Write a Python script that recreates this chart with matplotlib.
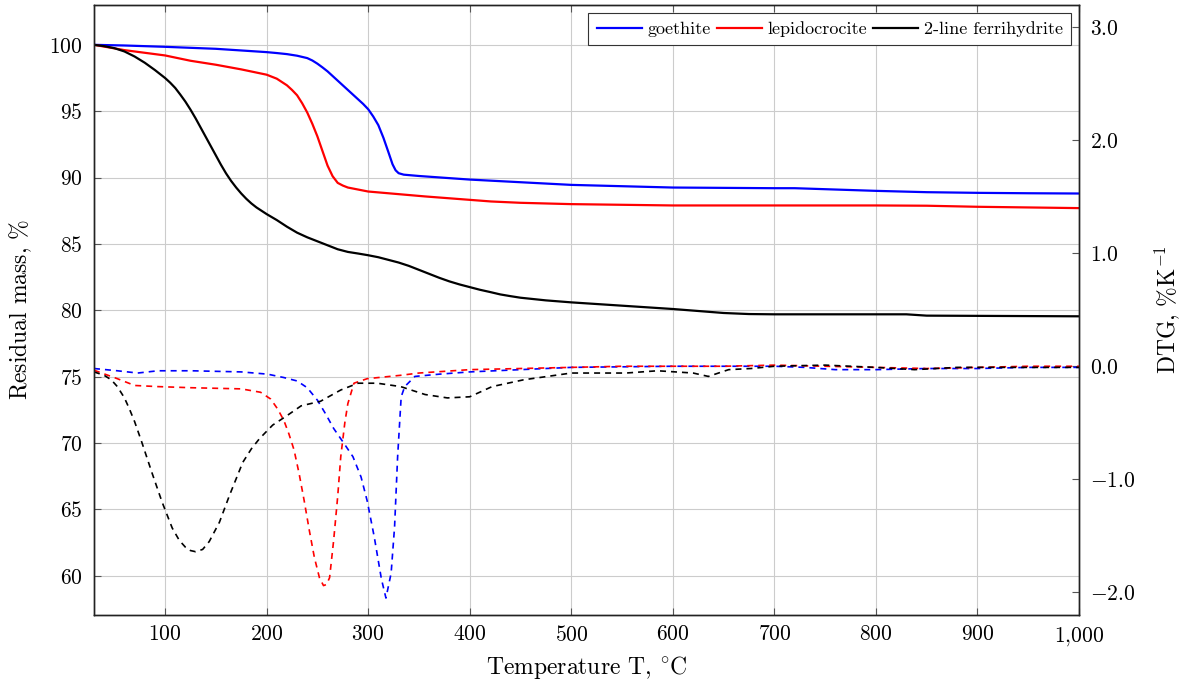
import matplotlib
matplotlib.use("Agg")
import matplotlib.pyplot as plt
from matplotlib.ticker import FixedLocator, FuncFormatter

plt.rcParams['font.family'] = 'serif'
plt.rcParams['font.serif'] = ['cmr10']
plt.rcParams['mathtext.fontset'] = 'cm'
plt.rcParams['axes.formatter.use_mathtext'] = True
plt.rcParams['axes.unicode_minus'] = True

# TG curves: temperature (°C) and residual mass (%)
goe_t = [30, 60, 100, 150, 200, 210, 220, 230, 240, 245, 250, 255, 260, 265, 270, 275, 280, 285,
         290, 295, 300, 305, 310, 315, 320, 324, 327, 330, 335, 350, 400, 450, 500, 550, 600,
         700, 720, 760, 800, 850, 900, 950, 1000]
goe_m = [100.0, 99.95, 99.85, 99.7, 99.45, 99.38, 99.3, 99.18, 99.0, 98.82, 98.58, 98.3, 98.0,
         97.65, 97.3, 96.95, 96.6, 96.25, 95.9, 95.55, 95.15, 94.6, 93.95, 93.0, 91.9, 91.0,
         90.55, 90.33, 90.22, 90.12, 89.85, 89.65, 89.45, 89.35, 89.25, 89.2, 89.2, 89.1, 89.0,
         88.9, 88.85, 88.82, 88.8]

lep_t = [30, 60, 100, 125, 150, 175, 200, 210, 215, 220, 225, 230, 235, 240, 245, 250, 255, 260,
         265, 270, 275, 280, 300, 356, 421, 450, 500, 600, 700, 800, 850, 900, 1000]
lep_m = [100.0, 99.6, 99.2, 98.8, 98.5, 98.15, 97.75, 97.45, 97.2, 96.95, 96.6, 96.2, 95.6, 94.9,
         94.05, 93.1, 92.0, 90.9, 90.1, 89.6, 89.4, 89.25, 88.95, 88.58, 88.2, 88.1, 88.0, 87.9,
         87.9, 87.9, 87.88, 87.8, 87.7]

fer_t = [30, 40, 50, 60, 70, 80, 90, 100, 105, 110, 115, 120, 125, 130, 135, 140, 145, 150, 155,
         160, 165, 170, 175, 180, 185, 190, 195, 200, 210, 220, 230, 240, 250, 260, 270, 280,
         290, 300, 310, 320, 330, 340, 350, 360, 370, 380, 390, 400, 410, 420, 430, 440, 450,
         475, 500, 550, 600, 625, 650, 675, 700, 830, 850, 1000]
fer_m = [100.0, 99.9, 99.75, 99.5, 99.12, 98.65, 98.1, 97.5, 97.15, 96.75, 96.25, 95.72, 95.12,
         94.47, 93.77, 93.07, 92.37, 91.67, 90.97, 90.32, 89.75, 89.25, 88.8, 88.4, 88.05, 87.75,
         87.5, 87.25, 86.8, 86.3, 85.85, 85.5, 85.2, 84.9, 84.6, 84.4, 84.28, 84.15, 84.0, 83.8,
         83.6, 83.35, 83.05, 82.75, 82.45, 82.18, 81.95, 81.75, 81.55, 81.38, 81.2, 81.07, 80.95,
         80.75, 80.6, 80.35, 80.1, 79.95, 79.8, 79.72, 79.7, 79.7, 79.6, 79.55]

# DTG curves: temperature (°C) and %/K
goe_dt = [30, 53, 73, 93, 126, 175, 201, 217, 230, 240, 250, 258, 266, 276, 285, 293, 299, 306,
          313, 317.5, 322.6, 326, 329, 332.5, 336, 346, 370, 400, 450, 500, 600, 700, 730, 760,
          800, 850, 900, 950, 1000]
goe_dtg = [-0.02, -0.04, -0.06, -0.04, -0.04, -0.05, -0.07, -0.10, -0.13, -0.19, -0.30, -0.42,
           -0.55, -0.68, -0.80, -0.98, -1.19, -1.51, -1.88, -2.05, -1.83, -1.42, -0.80, -0.27,
           -0.18, -0.09, -0.07, -0.05, -0.03, -0.01, 0.0, 0.0, -0.01, -0.03, -0.03, -0.02, -0.02,
           -0.01, -0.01]

lep_dt = [30, 53, 70, 93, 126, 175, 194, 204, 211, 217, 222, 227, 232, 237, 242, 247, 252, 256,
          259, 262, 266, 270, 273, 277, 280, 286, 299, 332, 350, 400, 450, 500, 550, 600, 650,
          700, 750, 800, 850, 900, 950, 1000]
lep_dtg = [-0.035, -0.11, -0.17, -0.18, -0.19, -0.20, -0.23, -0.29, -0.38, -0.48, -0.60, -0.74,
           -0.95, -1.19, -1.45, -1.69, -1.87, -1.94, -1.93, -1.87, -1.54, -1.15, -0.80, -0.50,
           -0.33, -0.15, -0.11, -0.08, -0.06, -0.03, -0.02, -0.01, 0.0, 0.0, 0.0, 0.01, 0.0,
           -0.01, -0.02, -0.01, 0.0, 0.0]

fer_dt = [30, 40, 47, 53, 60, 65, 70, 77, 87, 97, 107, 114, 120, 125, 130, 137, 143.5, 153.5,
          163.5, 176.5, 185, 193, 206, 219.5, 234, 253, 273, 290, 309, 332, 356, 378, 400, 422,
          453, 500, 554, 585, 620, 635, 655, 677, 700, 750, 800, 838, 880, 1000]
fer_dtg = [-0.05, -0.08, -0.12, -0.18, -0.28, -0.38, -0.49, -0.67, -0.94, -1.20, -1.43, -1.54,
           -1.60, -1.63, -1.64, -1.62, -1.55, -1.38, -1.14, -0.85, -0.73, -0.64, -0.52, -0.44,
           -0.35, -0.31, -0.21, -0.15, -0.15, -0.18, -0.25, -0.28, -0.27, -0.18, -0.12, -0.06,
           -0.06, -0.04, -0.06, -0.09, -0.03, -0.02, 0.0, 0.01, -0.01, -0.03, -0.01, -0.01]

names = ['goethite', 'lepidocrocite', '2-line ferrihydrite']
colors = ['#0000ff', '#ff0000', '#000000']

x_ticks = [100, 200, 300, 400, 500, 600, 700, 800, 900, 1000]
left_ticks = [60, 65, 70, 75, 80, 85, 90, 95, 100]
right_ticks = [-2.0, -1.0, 0.0, 1.0, 2.0, 3.0]

fig = plt.figure(figsize=(11.82, 6.86), dpi=100)
ax = fig.add_axes([94 / 1182, 1 - 615 / 686, (1079 - 94) / 1182, 610 / 686])
ax2 = ax.twinx()

tg = [(goe_t, goe_m), (lep_t, lep_m), (fer_t, fer_m)]
dtg = [(goe_dt, goe_dtg), (lep_dt, lep_dtg), (fer_dt, fer_dtg)]

handles = []
for (t, m), name, c in zip(tg, names, colors):
    h, = ax.plot(t, m, color=c, lw=1.6, label=name)
    handles.append(h)
for (t, d), c in zip(dtg, colors):
    ax2.plot(t, d, color=c, lw=1.2, dashes=[3.6, 3.0])

ax.set_xlim(30, 1000)
ax.set_ylim(57.05, 103.0)
ax2.set_ylim(-2.2, 3.195)

ax.xaxis.set_major_locator(FixedLocator(x_ticks))
ax.xaxis.set_major_formatter(FuncFormatter(
    lambda v, p: r'$1{,}000$' if v == 1000 else r'$%d$' % v))
ax.yaxis.set_major_locator(FixedLocator(left_ticks))
ax2.yaxis.set_major_locator(FixedLocator(right_ticks))
ax2.yaxis.set_major_formatter(FuncFormatter(lambda v, p: r'$%.1f$' % v))

ax.grid(True, color='#cccccc', lw=0.8)
ax.set_axisbelow(True)

ax.tick_params(axis='x', direction='in', top=True, length=5, width=0.8,
               labelsize=15.5, pad=7, color='#555555')
ax.tick_params(axis='y', direction='in', left=True, right=False, length=5,
               width=0.8, labelsize=15.5, pad=8, color='#555555')
ax2.tick_params(axis='y', direction='in', right=True, length=5, width=0.8,
                labelsize=15.5, pad=8, color='#555555')

for a in (ax, ax2):
    for s in a.spines.values():
        s.set_linewidth(1.0)
        s.set_color('#222222')

ax.set_xlabel(r'Temperature T, $^{\circ}$C', fontsize=17, labelpad=5)
ax.set_ylabel(r'Residual mass, $\%$', fontsize=17, labelpad=11)
ax2.set_ylabel(r'DTG, $\%$K$^{-1}$', fontsize=17, labelpad=12)

leg = ax2.legend(handles=handles, loc='upper right', ncol=3, fontsize=13,
                 frameon=True, fancybox=False, edgecolor='#333333', framealpha=1,
                 handlelength=2.5, handletextpad=0.3, columnspacing=0.35,
                 borderaxespad=0.45, borderpad=0.45)
leg.get_frame().set_linewidth(0.8)

fig.savefig('out.png', dpi=100)
